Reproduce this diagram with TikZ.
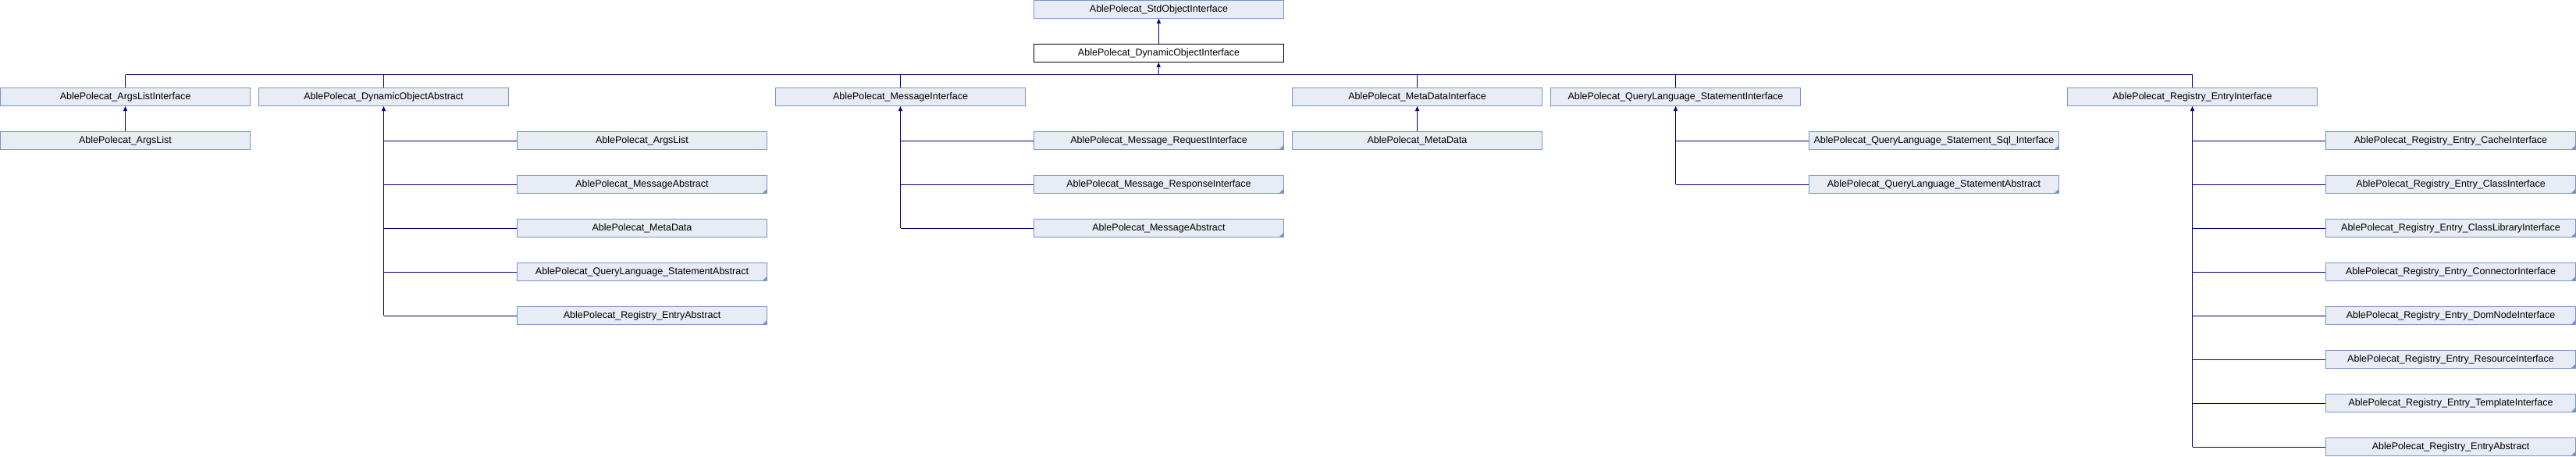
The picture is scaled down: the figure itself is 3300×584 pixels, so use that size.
\documentclass[tikz,border=0pt]{standalone}
\usepackage{fontspec}
\setmainfont{Liberation Sans}
\usetikzlibrary{arrows.meta}
\definecolor{dxfill}{HTML}{E8ECF4}
\definecolor{dxedge}{HTML}{7A92CA}
\definecolor{dxline}{HTML}{000080}
\tikzset{
  cls/.style={draw=dxedge, fill=dxfill, line width=1pt, anchor=north west, minimum width=320pt, minimum height=23pt, inner sep=0pt, font=\fontsize{12.5}{14}\selectfont},
  cur/.style={cls, draw=black, fill=white},
  more/.style={cls, path picture={\fill[dxedge] (path picture bounding box.south east) -- ++(-6pt,0pt) -- ++(6pt,6pt) -- cycle;}},
  inh/.style={{Triangle[length=6pt,width=5pt]}-, draw=dxline, line width=1pt},
  lnk/.style={draw=dxline, line width=1pt},
}
\begin{document}
\begin{tikzpicture}[x=1pt, y=-1pt]
  \useasboundingbox (0,0) rectangle (3300,584);
  \node[cls] (std) at (1324,0) {AblePolecat\_StdObjectInterface};
  \node[cur] (dyn) at (1324,56) {AblePolecat\_DynamicObjectInterface};
  % first level under the bus
  \foreach \n/\x/\t in {argsi/0/ArgsListInterface, dyna/331/DynamicObjectAbstract, msgi/993/MessageInterface,
      metai/1655/MetaDataInterface, qli/1986/QueryLanguage\_StatementInterface, regi/2648/Registry\_EntryInterface}
    \node[cls] (\n) at (\x,112) {AblePolecat\_\t};
  \node[cls] (argsl) at (0,168) {AblePolecat\_ArgsList};
  \node[cls] (metad) at (1655,168) {AblePolecat\_MetaData};
  % children lists
  \foreach \i/\s/\t in {1/cls/ArgsList, 2/more/MessageAbstract, 3/cls/MetaData,
      4/more/QueryLanguage\_StatementAbstract, 5/more/Registry\_EntryAbstract}
    \node[\s] (d\i) at (662,112+56*\i) {AblePolecat\_\t};
  \foreach \i/\t in {1/Message\_RequestInterface, 2/Message\_ResponseInterface, 3/MessageAbstract}
    \node[more] (m\i) at (1324,112+56*\i) {AblePolecat\_\t};
  \foreach \i/\t in {1/QueryLanguage\_Statement\_Sql\_Interface, 2/QueryLanguage\_StatementAbstract}
    \node[more] (q\i) at (2317,112+56*\i) {AblePolecat\_\t};
  \foreach \i/\t in {1/CacheInterface, 2/ClassInterface, 3/ClassLibraryInterface, 4/ConnectorInterface,
      5/DomNodeInterface, 6/ResourceInterface, 7/TemplateInterface}
    \node[more] (r\i) at (2979,112+56*\i) {AblePolecat\_Registry\_Entry\_\t};
  \node[more] (r8) at (2979,560) {AblePolecat\_Registry\_EntryAbstract};

  % connectors
  \draw[inh] (std) -- (dyn);
  \coordinate (bus) at (1484,95.5);
  \draw[inh] (dyn) -- (bus);
  \draw[lnk] (argsi.north |- bus) -- (regi.north |- bus);
  \foreach \n in {argsi,dyna,msgi,metai,qli,regi} \draw[lnk] (\n.north |- bus) -- (\n);
  \draw[inh] (argsi) -- (argsl);
  \draw[inh] (metai) -- (metad);
  \draw[inh] (dyna.south) -- (dyna.south |- d5.west);
  \foreach \i in {1,...,5} \draw[lnk] (dyna.south |- d\i.west) -- (d\i.west);
  \draw[inh] (msgi.south) -- (msgi.south |- m3.west);
  \foreach \i in {1,2,3} \draw[lnk] (msgi.south |- m\i.west) -- (m\i.west);
  \draw[inh] (qli.south) -- (qli.south |- q2.west);
  \foreach \i in {1,2} \draw[lnk] (qli.south |- q\i.west) -- (q\i.west);
  \draw[inh] (regi.south) -- (regi.south |- r8.west);
  \foreach \i in {1,...,8} \draw[lnk] (regi.south |- r\i.west) -- (r\i.west);
\end{tikzpicture}
\end{document}
